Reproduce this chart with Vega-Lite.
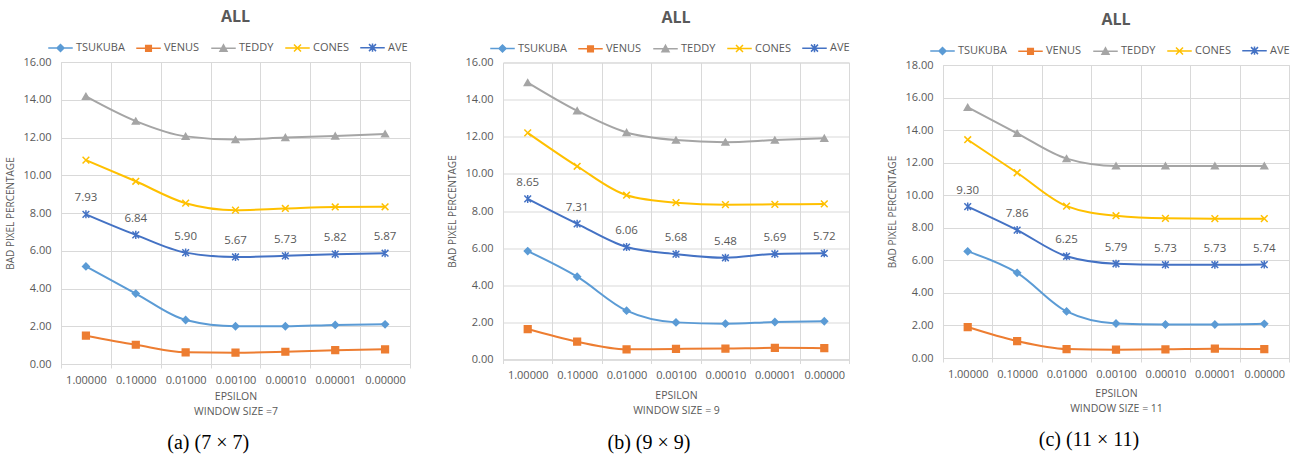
{
  "$schema": "https://vega.github.io/schema/vega-lite/v6.json",
  "background": "white",
  "padding": {"left": 5, "top": 8, "right": 5, "bottom": 5},
  "center": true,
  "config": {
    "font": "Open Sans",
    "view": {"stroke": "#d9d9d9"},
    "axis": {"labelColor": "#595959", "titleColor": "#595959", "gridColor": "#d9d9d9", "domainColor": "#d9d9d9", "tickColor": "#d9d9d9", "labelFont": "Open Sans", "titleFont": "Open Sans", "titleFontWeight": "normal"},
    "legend": {"labelFont": "Open Sans", "symbolSize": 49, "symbolStrokeWidth": 1.5, "labelFontSize": 11, "labelColor": "#595959", "columnPadding": 8, "labelOffset": 10, "symbolOffset": -6, "offset": 7}
  },
  "datasets": {
    "all": [
      {"panel": "a", "series": "TSUKUBA", "epsilon": "1.00000", "value": 5.17},
      {"panel": "a", "series": "TSUKUBA", "epsilon": "0.10000", "value": 3.73},
      {"panel": "a", "series": "TSUKUBA", "epsilon": "0.01000", "value": 2.33},
      {"panel": "a", "series": "TSUKUBA", "epsilon": "0.00100", "value": 2.00},
      {"panel": "a", "series": "TSUKUBA", "epsilon": "0.00010", "value": 2.00},
      {"panel": "a", "series": "TSUKUBA", "epsilon": "0.00001", "value": 2.07},
      {"panel": "a", "series": "TSUKUBA", "epsilon": "0.00000", "value": 2.10},
      {"panel": "a", "series": "VENUS", "epsilon": "1.00000", "value": 1.50},
      {"panel": "a", "series": "VENUS", "epsilon": "0.10000", "value": 1.02},
      {"panel": "a", "series": "VENUS", "epsilon": "0.01000", "value": 0.62},
      {"panel": "a", "series": "VENUS", "epsilon": "0.00100", "value": 0.60},
      {"panel": "a", "series": "VENUS", "epsilon": "0.00010", "value": 0.65},
      {"panel": "a", "series": "VENUS", "epsilon": "0.00001", "value": 0.73},
      {"panel": "a", "series": "VENUS", "epsilon": "0.00000", "value": 0.78},
      {"panel": "a", "series": "TEDDY", "epsilon": "1.00000", "value": 14.18},
      {"panel": "a", "series": "TEDDY", "epsilon": "0.10000", "value": 12.87},
      {"panel": "a", "series": "TEDDY", "epsilon": "0.01000", "value": 12.06},
      {"panel": "a", "series": "TEDDY", "epsilon": "0.00100", "value": 11.89},
      {"panel": "a", "series": "TEDDY", "epsilon": "0.00010", "value": 12.00},
      {"panel": "a", "series": "TEDDY", "epsilon": "0.00001", "value": 12.08},
      {"panel": "a", "series": "TEDDY", "epsilon": "0.00000", "value": 12.19},
      {"panel": "a", "series": "CONES", "epsilon": "1.00000", "value": 10.80},
      {"panel": "a", "series": "CONES", "epsilon": "0.10000", "value": 9.68},
      {"panel": "a", "series": "CONES", "epsilon": "0.01000", "value": 8.52},
      {"panel": "a", "series": "CONES", "epsilon": "0.00100", "value": 8.15},
      {"panel": "a", "series": "CONES", "epsilon": "0.00010", "value": 8.24},
      {"panel": "a", "series": "CONES", "epsilon": "0.00001", "value": 8.32},
      {"panel": "a", "series": "CONES", "epsilon": "0.00000", "value": 8.33},
      {"panel": "a", "series": "AVE", "epsilon": "1.00000", "value": 7.93},
      {"panel": "a", "series": "AVE", "epsilon": "0.10000", "value": 6.84},
      {"panel": "a", "series": "AVE", "epsilon": "0.01000", "value": 5.90},
      {"panel": "a", "series": "AVE", "epsilon": "0.00100", "value": 5.67},
      {"panel": "a", "series": "AVE", "epsilon": "0.00010", "value": 5.73},
      {"panel": "a", "series": "AVE", "epsilon": "0.00001", "value": 5.82},
      {"panel": "a", "series": "AVE", "epsilon": "0.00000", "value": 5.87},
      {"panel": "b", "series": "TSUKUBA", "epsilon": "1.00000", "value": 5.84},
      {"panel": "b", "series": "TSUKUBA", "epsilon": "0.10000", "value": 4.46},
      {"panel": "b", "series": "TSUKUBA", "epsilon": "0.01000", "value": 2.63},
      {"panel": "b", "series": "TSUKUBA", "epsilon": "0.00100", "value": 2.00},
      {"panel": "b", "series": "TSUKUBA", "epsilon": "0.00010", "value": 1.93},
      {"panel": "b", "series": "TSUKUBA", "epsilon": "0.00001", "value": 2.02},
      {"panel": "b", "series": "TSUKUBA", "epsilon": "0.00000", "value": 2.06},
      {"panel": "b", "series": "VENUS", "epsilon": "1.00000", "value": 1.64},
      {"panel": "b", "series": "VENUS", "epsilon": "0.10000", "value": 0.96},
      {"panel": "b", "series": "VENUS", "epsilon": "0.01000", "value": 0.55},
      {"panel": "b", "series": "VENUS", "epsilon": "0.00100", "value": 0.57},
      {"panel": "b", "series": "VENUS", "epsilon": "0.00010", "value": 0.59},
      {"panel": "b", "series": "VENUS", "epsilon": "0.00001", "value": 0.63},
      {"panel": "b", "series": "VENUS", "epsilon": "0.00000", "value": 0.61},
      {"panel": "b", "series": "TEDDY", "epsilon": "1.00000", "value": 14.92},
      {"panel": "b", "series": "TEDDY", "epsilon": "0.10000", "value": 13.40},
      {"panel": "b", "series": "TEDDY", "epsilon": "0.01000", "value": 12.23},
      {"panel": "b", "series": "TEDDY", "epsilon": "0.00100", "value": 11.82},
      {"panel": "b", "series": "TEDDY", "epsilon": "0.00010", "value": 11.71},
      {"panel": "b", "series": "TEDDY", "epsilon": "0.00001", "value": 11.82},
      {"panel": "b", "series": "TEDDY", "epsilon": "0.00000", "value": 11.92},
      {"panel": "b", "series": "CONES", "epsilon": "1.00000", "value": 12.21},
      {"panel": "b", "series": "CONES", "epsilon": "0.10000", "value": 10.41},
      {"panel": "b", "series": "CONES", "epsilon": "0.01000", "value": 8.85},
      {"panel": "b", "series": "CONES", "epsilon": "0.00100", "value": 8.45},
      {"panel": "b", "series": "CONES", "epsilon": "0.00010", "value": 8.34},
      {"panel": "b", "series": "CONES", "epsilon": "0.00001", "value": 8.36},
      {"panel": "b", "series": "CONES", "epsilon": "0.00000", "value": 8.38},
      {"panel": "b", "series": "AVE", "epsilon": "1.00000", "value": 8.65},
      {"panel": "b", "series": "AVE", "epsilon": "0.10000", "value": 7.31},
      {"panel": "b", "series": "AVE", "epsilon": "0.01000", "value": 6.06},
      {"panel": "b", "series": "AVE", "epsilon": "0.00100", "value": 5.68},
      {"panel": "b", "series": "AVE", "epsilon": "0.00010", "value": 5.48},
      {"panel": "b", "series": "AVE", "epsilon": "0.00001", "value": 5.69},
      {"panel": "b", "series": "AVE", "epsilon": "0.00000", "value": 5.72},
      {"panel": "c", "series": "TSUKUBA", "epsilon": "1.00000", "value": 6.55},
      {"panel": "c", "series": "TSUKUBA", "epsilon": "0.10000", "value": 5.23},
      {"panel": "c", "series": "TSUKUBA", "epsilon": "0.01000", "value": 2.86},
      {"panel": "c", "series": "TSUKUBA", "epsilon": "0.00100", "value": 2.12},
      {"panel": "c", "series": "TSUKUBA", "epsilon": "0.00010", "value": 2.06},
      {"panel": "c", "series": "TSUKUBA", "epsilon": "0.00001", "value": 2.06},
      {"panel": "c", "series": "TSUKUBA", "epsilon": "0.00000", "value": 2.10},
      {"panel": "c", "series": "VENUS", "epsilon": "1.00000", "value": 1.90},
      {"panel": "c", "series": "VENUS", "epsilon": "0.10000", "value": 1.04},
      {"panel": "c", "series": "VENUS", "epsilon": "0.01000", "value": 0.55},
      {"panel": "c", "series": "VENUS", "epsilon": "0.00100", "value": 0.51},
      {"panel": "c", "series": "VENUS", "epsilon": "0.00010", "value": 0.53},
      {"panel": "c", "series": "VENUS", "epsilon": "0.00001", "value": 0.57},
      {"panel": "c", "series": "VENUS", "epsilon": "0.00000", "value": 0.55},
      {"panel": "c", "series": "TEDDY", "epsilon": "1.00000", "value": 15.40},
      {"panel": "c", "series": "TEDDY", "epsilon": "0.10000", "value": 13.80},
      {"panel": "c", "series": "TEDDY", "epsilon": "0.01000", "value": 12.25},
      {"panel": "c", "series": "TEDDY", "epsilon": "0.00100", "value": 11.80},
      {"panel": "c", "series": "TEDDY", "epsilon": "0.00010", "value": 11.80},
      {"panel": "c", "series": "TEDDY", "epsilon": "0.00001", "value": 11.80},
      {"panel": "c", "series": "TEDDY", "epsilon": "0.00000", "value": 11.80},
      {"panel": "c", "series": "CONES", "epsilon": "1.00000", "value": 13.41},
      {"panel": "c", "series": "CONES", "epsilon": "0.10000", "value": 11.38},
      {"panel": "c", "series": "CONES", "epsilon": "0.01000", "value": 9.33},
      {"panel": "c", "series": "CONES", "epsilon": "0.00100", "value": 8.74},
      {"panel": "c", "series": "CONES", "epsilon": "0.00010", "value": 8.58},
      {"panel": "c", "series": "CONES", "epsilon": "0.00001", "value": 8.56},
      {"panel": "c", "series": "CONES", "epsilon": "0.00000", "value": 8.56},
      {"panel": "c", "series": "AVE", "epsilon": "1.00000", "value": 9.30},
      {"panel": "c", "series": "AVE", "epsilon": "0.10000", "value": 7.86},
      {"panel": "c", "series": "AVE", "epsilon": "0.01000", "value": 6.25},
      {"panel": "c", "series": "AVE", "epsilon": "0.00100", "value": 5.79},
      {"panel": "c", "series": "AVE", "epsilon": "0.00010", "value": 5.73},
      {"panel": "c", "series": "AVE", "epsilon": "0.00001", "value": 5.73},
      {"panel": "c", "series": "AVE", "epsilon": "0.00000", "value": 5.74}
    ]
  },
  "data": {"name": "all"},
  "spacing": 36,
  "resolve": {"scale": {"y": "independent", "fill": "independent", "stroke": "independent", "shape": "independent"}, "legend": {"fill": "independent", "stroke": "independent", "shape": "independent"}},
  "hconcat": [
    {
      "resolve": {"scale": {"y": "independent", "fill": "independent", "stroke": "independent", "shape": "independent"}, "legend": {"fill": "independent", "stroke": "independent", "shape": "independent"}},
      "title": {"text": "(a) (7 × 7)", "orient": "bottom", "font": "Liberation Serif", "fontSize": 20, "fontWeight": "normal", "color": "#000000", "offset": 16, "anchor": "middle"},
      "vconcat": [
        {
          "width": 349, "height": 302,
          "title": {"text": "ALL", "fontSize": 16, "fontWeight": "bold", "color": "#595959", "anchor": "middle", "frame": "group", "offset": 17, "font": "Open Sans"},
          "transform": [{"filter": "datum.panel === 'a'"}],
          "resolve": {"scale": {"fill": "independent", "stroke": "independent", "shape": "independent"}, "legend": {"fill": "independent", "stroke": "independent", "shape": "independent"}},
          "encoding": {
            "x": {"field": "epsilon", "type": "ordinal", "sort": ["1.00000", "0.10000", "0.01000", "0.00100", "0.00010", "0.00001", "0.00000"], "scale": {"type": "band", "paddingInner": 0, "paddingOuter": 0},
                  "axis": {"title": ["EPSILON", "WINDOW SIZE =7"], "labelAngle": 0, "tickBand": "extent", "grid": true, "tickSize": 4, "labelPadding": 6, "labelFontSize": 11, "titleFontSize": 10.5, "titlePadding": 6, "titleLineHeight": 15}},
            "y": {"field": "value", "type": "quantitative", "scale": {"domain": [0, 16]},
                  "axis": {"title": "BAD PIXEL PERCENTAGE", "format": ".2f", "tickCount": 8, "domain": false, "ticks": false, "labelPadding": 10, "labelFontSize": 11, "titleFontSize": 10, "titlePadding": 7}}
          },
          "layer": [
            {"mark": {"type": "line", "strokeWidth": 2, "interpolate": "monotone"},
             "encoding": {"stroke": {"field": "series", "type": "nominal", "legend": null, "scale": {"domain": ["TSUKUBA", "VENUS", "TEDDY", "CONES", "AVE"], "range": ["#5B9BD5", "#ED7D31", "#A5A5A5", "#FFC000", "#4472C4"]}}}},
            {"mark": {"type": "point", "filled": true, "size": 45, "strokeWidth": 1.5, "opacity": 1},
             "encoding": {
               "fill": {"field": "series", "type": "nominal", "legend": null, "scale": {"domain": ["TSUKUBA", "VENUS", "TEDDY", "CONES", "AVE"], "range": ["#5B9BD5", "#ED7D31", "#A5A5A5", "#FFC000", "#4472C4"]}},
               "stroke": {"field": "series", "type": "nominal", "legend": null, "scale": {"domain": ["TSUKUBA", "VENUS", "TEDDY", "CONES", "AVE"], "range": ["#5B9BD5", "#ED7D31", "#A5A5A5", "#FFC000", "#4472C4"]}},
               "shape": {"field": "series", "type": "nominal", "legend": null, "scale": {"domain": ["TSUKUBA", "VENUS", "TEDDY", "CONES", "AVE"], "range": ["diamond", "square", "triangle-up", "M-1,-1L1,1M-1,1L1,-1", "M-1,-1L1,1M-1,1L1,-1M0,-1.2L0,1.2"]}}
             }},
            {"transform": [{"filter": "datum.series === 'AVE'"}],
             "mark": {"type": "text", "dy": -16, "fontSize": 11.5, "color": "#595959", "font": "Open Sans"},
             "encoding": {"text": {"field": "value", "type": "quantitative", "format": ".2f"}}},
            {"transform": [{"filter": "datum.value < 0"}],
             "mark": {"type": "point", "filled": true, "strokeWidth": 1.5, "opacity": 1},
             "encoding": {
               "fill": {"field": "series", "type": "nominal", "legend": {"title": null, "orient": "top", "direction": "horizontal"}, "scale": {"domain": ["TSUKUBA", "VENUS", "TEDDY", "CONES", "AVE"], "range": ["#5B9BD5", "#ED7D31", "#A5A5A5", "#FFC000", "#4472C4"]}},
               "stroke": {"field": "series", "type": "nominal", "legend": {"title": null, "orient": "top", "direction": "horizontal"}, "scale": {"domain": ["TSUKUBA", "VENUS", "TEDDY", "CONES", "AVE"], "range": ["#5B9BD5", "#ED7D31", "#A5A5A5", "#FFC000", "#4472C4"]}},
               "shape": {"field": "series", "type": "nominal", "legend": {"title": null, "orient": "top", "direction": "horizontal"}, "scale": {"domain": ["TSUKUBA", "VENUS", "TEDDY", "CONES", "AVE"], "range": ["M-3.5,0L3.5,0M-1,0L0,-1L1,0L0,1Z", "M-3.5,0L3.5,0M-0.8,-0.8L0.8,-0.8L0.8,0.8L-0.8,0.8Z", "M-3.5,0L3.5,0M0,-1L1,0.8L-1,0.8Z", "M-3.5,0L3.5,0M-1,-1L1,1M-1,1L1,-1", "M-3.5,0L3.5,0M-1,-1L1,1M-1,1L1,-1M0,-1.2L0,1.2"]}}
             }}
          ]
        }
      ]
    },
    {
      "resolve": {"scale": {"y": "independent", "fill": "independent", "stroke": "independent", "shape": "independent"}, "legend": {"fill": "independent", "stroke": "independent", "shape": "independent"}},
      "title": {"text": "(b) (9 × 9)", "orient": "bottom", "font": "Liberation Serif", "fontSize": 20, "fontWeight": "normal", "color": "#000000", "offset": 16, "anchor": "middle"},
      "vconcat": [
        {
          "width": 346, "height": 297,
          "title": {"text": "ALL", "fontSize": 16, "fontWeight": "bold", "color": "#595959", "anchor": "middle", "frame": "group", "offset": 17, "font": "Open Sans"},
          "transform": [{"filter": "datum.panel === 'b'"}],
          "resolve": {"scale": {"fill": "independent", "stroke": "independent", "shape": "independent"}, "legend": {"fill": "independent", "stroke": "independent", "shape": "independent"}},
          "encoding": {
            "x": {"field": "epsilon", "type": "ordinal", "sort": ["1.00000", "0.10000", "0.01000", "0.00100", "0.00010", "0.00001", "0.00000"], "scale": {"type": "band", "paddingInner": 0, "paddingOuter": 0},
                  "axis": {"title": ["EPSILON", "WINDOW SIZE = 9"], "labelAngle": 0, "tickBand": "extent", "grid": true, "tickSize": 4, "labelPadding": 6, "labelFontSize": 11, "titleFontSize": 10.5, "titlePadding": 10, "titleLineHeight": 15}},
            "y": {"field": "value", "type": "quantitative", "scale": {"domain": [0, 16]},
                  "axis": {"title": "BAD PIXEL PERCENTAGE", "format": ".2f", "tickCount": 8, "domain": false, "ticks": false, "labelPadding": 10, "labelFontSize": 11, "titleFontSize": 10, "titlePadding": 7}}
          },
          "layer": [
            {"mark": {"type": "line", "strokeWidth": 2, "interpolate": "monotone"},
             "encoding": {"stroke": {"field": "series", "type": "nominal", "legend": null, "scale": {"domain": ["TSUKUBA", "VENUS", "TEDDY", "CONES", "AVE"], "range": ["#5B9BD5", "#ED7D31", "#A5A5A5", "#FFC000", "#4472C4"]}}}},
            {"mark": {"type": "point", "filled": true, "size": 45, "strokeWidth": 1.5, "opacity": 1},
             "encoding": {
               "fill": {"field": "series", "type": "nominal", "legend": null, "scale": {"domain": ["TSUKUBA", "VENUS", "TEDDY", "CONES", "AVE"], "range": ["#5B9BD5", "#ED7D31", "#A5A5A5", "#FFC000", "#4472C4"]}},
               "stroke": {"field": "series", "type": "nominal", "legend": null, "scale": {"domain": ["TSUKUBA", "VENUS", "TEDDY", "CONES", "AVE"], "range": ["#5B9BD5", "#ED7D31", "#A5A5A5", "#FFC000", "#4472C4"]}},
               "shape": {"field": "series", "type": "nominal", "legend": null, "scale": {"domain": ["TSUKUBA", "VENUS", "TEDDY", "CONES", "AVE"], "range": ["diamond", "square", "triangle-up", "M-1,-1L1,1M-1,1L1,-1", "M-1,-1L1,1M-1,1L1,-1M0,-1.2L0,1.2"]}}
             }},
            {"transform": [{"filter": "datum.series === 'AVE'"}],
             "mark": {"type": "text", "dy": -16, "fontSize": 11.5, "color": "#595959", "font": "Open Sans"},
             "encoding": {"text": {"field": "value", "type": "quantitative", "format": ".2f"}}},
            {"transform": [{"filter": "datum.value < 0"}],
             "mark": {"type": "point", "filled": true, "strokeWidth": 1.5, "opacity": 1},
             "encoding": {
               "fill": {"field": "series", "type": "nominal", "legend": {"title": null, "orient": "top", "direction": "horizontal"}, "scale": {"domain": ["TSUKUBA", "VENUS", "TEDDY", "CONES", "AVE"], "range": ["#5B9BD5", "#ED7D31", "#A5A5A5", "#FFC000", "#4472C4"]}},
               "stroke": {"field": "series", "type": "nominal", "legend": {"title": null, "orient": "top", "direction": "horizontal"}, "scale": {"domain": ["TSUKUBA", "VENUS", "TEDDY", "CONES", "AVE"], "range": ["#5B9BD5", "#ED7D31", "#A5A5A5", "#FFC000", "#4472C4"]}},
               "shape": {"field": "series", "type": "nominal", "legend": {"title": null, "orient": "top", "direction": "horizontal"}, "scale": {"domain": ["TSUKUBA", "VENUS", "TEDDY", "CONES", "AVE"], "range": ["M-3.5,0L3.5,0M-1,0L0,-1L1,0L0,1Z", "M-3.5,0L3.5,0M-0.8,-0.8L0.8,-0.8L0.8,0.8L-0.8,0.8Z", "M-3.5,0L3.5,0M0,-1L1,0.8L-1,0.8Z", "M-3.5,0L3.5,0M-1,-1L1,1M-1,1L1,-1", "M-3.5,0L3.5,0M-1,-1L1,1M-1,1L1,-1M0,-1.2L0,1.2"]}}
             }}
          ]
        }
      ]
    },
    {
      "resolve": {"scale": {"y": "independent", "fill": "independent", "stroke": "independent", "shape": "independent"}, "legend": {"fill": "independent", "stroke": "independent", "shape": "independent"}},
      "title": {"text": "(c) (11 × 11)", "orient": "bottom", "font": "Liberation Serif", "fontSize": 20, "fontWeight": "normal", "color": "#000000", "offset": 16, "anchor": "middle"},
      "vconcat": [
        {
          "width": 346, "height": 293,
          "title": {"text": "ALL", "fontSize": 16, "fontWeight": "bold", "color": "#595959", "anchor": "middle", "frame": "group", "offset": 17, "font": "Open Sans"},
          "transform": [{"filter": "datum.panel === 'c'"}],
          "resolve": {"scale": {"fill": "independent", "stroke": "independent", "shape": "independent"}, "legend": {"fill": "independent", "stroke": "independent", "shape": "independent"}},
          "encoding": {
            "x": {"field": "epsilon", "type": "ordinal", "sort": ["1.00000", "0.10000", "0.01000", "0.00100", "0.00010", "0.00001", "0.00000"], "scale": {"type": "band", "paddingInner": 0, "paddingOuter": 0},
                  "axis": {"title": ["EPSILON", "WINDOW SIZE = 11"], "labelAngle": 0, "tickBand": "extent", "grid": true, "tickSize": 4, "labelPadding": 6, "labelFontSize": 11, "titleFontSize": 10.5, "titlePadding": 9, "titleLineHeight": 15}},
            "y": {"field": "value", "type": "quantitative", "scale": {"domain": [0, 18]},
                  "axis": {"title": "BAD PIXEL PERCENTAGE", "format": ".2f", "tickCount": 9, "domain": false, "ticks": false, "labelPadding": 10, "labelFontSize": 11, "titleFontSize": 10, "titlePadding": 7}}
          },
          "layer": [
            {"mark": {"type": "line", "strokeWidth": 2, "interpolate": "monotone"},
             "encoding": {"stroke": {"field": "series", "type": "nominal", "legend": null, "scale": {"domain": ["TSUKUBA", "VENUS", "TEDDY", "CONES", "AVE"], "range": ["#5B9BD5", "#ED7D31", "#A5A5A5", "#FFC000", "#4472C4"]}}}},
            {"mark": {"type": "point", "filled": true, "size": 45, "strokeWidth": 1.5, "opacity": 1},
             "encoding": {
               "fill": {"field": "series", "type": "nominal", "legend": null, "scale": {"domain": ["TSUKUBA", "VENUS", "TEDDY", "CONES", "AVE"], "range": ["#5B9BD5", "#ED7D31", "#A5A5A5", "#FFC000", "#4472C4"]}},
               "stroke": {"field": "series", "type": "nominal", "legend": null, "scale": {"domain": ["TSUKUBA", "VENUS", "TEDDY", "CONES", "AVE"], "range": ["#5B9BD5", "#ED7D31", "#A5A5A5", "#FFC000", "#4472C4"]}},
               "shape": {"field": "series", "type": "nominal", "legend": null, "scale": {"domain": ["TSUKUBA", "VENUS", "TEDDY", "CONES", "AVE"], "range": ["diamond", "square", "triangle-up", "M-1,-1L1,1M-1,1L1,-1", "M-1,-1L1,1M-1,1L1,-1M0,-1.2L0,1.2"]}}
             }},
            {"transform": [{"filter": "datum.series === 'AVE'"}],
             "mark": {"type": "text", "dy": -16, "fontSize": 11.5, "color": "#595959", "font": "Open Sans"},
             "encoding": {"text": {"field": "value", "type": "quantitative", "format": ".2f"}}},
            {"transform": [{"filter": "datum.value < 0"}],
             "mark": {"type": "point", "filled": true, "strokeWidth": 1.5, "opacity": 1},
             "encoding": {
               "fill": {"field": "series", "type": "nominal", "legend": {"title": null, "orient": "top", "direction": "horizontal"}, "scale": {"domain": ["TSUKUBA", "VENUS", "TEDDY", "CONES", "AVE"], "range": ["#5B9BD5", "#ED7D31", "#A5A5A5", "#FFC000", "#4472C4"]}},
               "stroke": {"field": "series", "type": "nominal", "legend": {"title": null, "orient": "top", "direction": "horizontal"}, "scale": {"domain": ["TSUKUBA", "VENUS", "TEDDY", "CONES", "AVE"], "range": ["#5B9BD5", "#ED7D31", "#A5A5A5", "#FFC000", "#4472C4"]}},
               "shape": {"field": "series", "type": "nominal", "legend": {"title": null, "orient": "top", "direction": "horizontal"}, "scale": {"domain": ["TSUKUBA", "VENUS", "TEDDY", "CONES", "AVE"], "range": ["M-3.5,0L3.5,0M-1,0L0,-1L1,0L0,1Z", "M-3.5,0L3.5,0M-0.8,-0.8L0.8,-0.8L0.8,0.8L-0.8,0.8Z", "M-3.5,0L3.5,0M0,-1L1,0.8L-1,0.8Z", "M-3.5,0L3.5,0M-1,-1L1,1M-1,1L1,-1", "M-3.5,0L3.5,0M-1,-1L1,1M-1,1L1,-1M0,-1.2L0,1.2"]}}
             }}
          ]
        }
      ]
    }
  ]
}
